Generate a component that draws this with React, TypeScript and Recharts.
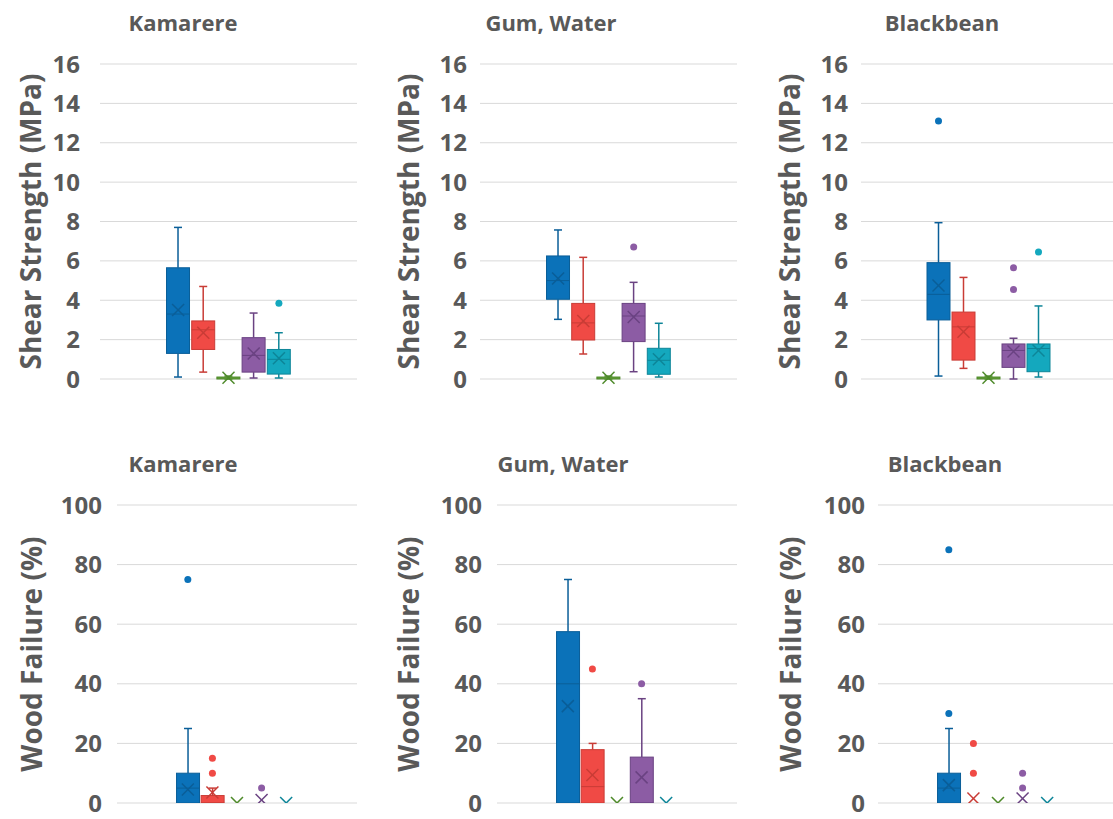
import React from "react";
import { ComposedChart, Bar, Scatter, XAxis, YAxis, CartesianGrid } from "recharts";

const FONT = "'Open Sans', 'DejaVu Sans', sans-serif";
const TEXT = "#595959";

const seriesNames = ["Series 1", "Series 2", "Series 3", "Series 4", "Series 5"];
const seriesFill = ["#0B72B9", "#F04A45", "#7AB648", "#8C5CA4", "#14A8BE"];
const seriesLine = ["#0A5E98", "#C93C36", "#4E8A2A", "#6A4282", "#0D8598"];

const shearTicks = [0, 2, 4, 6, 8, 10, 12, 14, 16];
const failureTicks = [0, 20, 40, 60, 80, 100];

// [min, q1, median, q3, max] for each series
const shearKamarere = [
    [0.1, 1.3, 3.3, 5.65, 7.7],
    [0.35, 1.5, 2.5, 2.95, 4.7],
    [0, 0, 0.05, 0.1, 0.15],
    [0.05, 0.35, 1.2, 2.1, 3.35],
    [0.05, 0.25, 1.0, 1.5, 2.35],
];
const shearKamarereMeans = [3.5, 2.35, 0.06, 1.3, 1.05];
const shearKamarereOutliers = [[], [], [], [], [3.85]];

const shearGum = [
    [3.03, 4.05, 5.0, 6.25, 7.57],
    [1.27, 1.98, 2.85, 3.84, 6.18],
    [0, 0, 0.05, 0.1, 0.15],
    [0.37, 1.9, 3.2, 3.84, 4.91],
    [0.1, 0.24, 0.95, 1.56, 2.83],
];
const shearGumMeans = [5.1, 2.95, 0.06, 3.15, 1.0];
const shearGumOutliers = [[], [], [], [6.7], []];

const shearBlackbean = [
    [0.15, 3.0, 4.3, 5.91, 7.94],
    [0.54, 0.96, 2.65, 3.4, 5.16],
    [0, 0, 0.05, 0.1, 0.15],
    [0, 0.59, 1.45, 1.78, 2.07],
    [0.1, 0.37, 1.55, 1.78, 3.71],
];
const shearBlackbeanMeans = [4.75, 2.4, 0.06, 1.4, 1.45];
const shearBlackbeanOutliers = [[13.1], [], [], [4.55, 5.65], [6.45]];

const failureKamarere = [
    [0, 0, 5, 10, 25],
    [0, 0, 0, 2.5, 5],
    [0, 0, 0, 0, 0],
    [0, 0, 0, 0, 0],
    [0, 0, 0, 0, 0],
];
const failureKamarereMeans = [4.5, 3.5, 0, 1, 0];
const failureKamarereOutliers = [[75], [10, 15], [], [5], []];

const failureGum = [
    [0, 0, 40, 57.5, 75],
    [0, 0, 5.5, 17.9, 20],
    [0, 0, 0, 0, 0],
    [0, 0, 0, 15.4, 35],
    [0, 0, 0, 0, 0],
];
const failureGumMeans = [32.5, 9.4, 0, 8.6, 0];
const failureGumOutliers = [[], [45], [], [40], []];

const failureBlackbean = [
    [0, 0, 5, 10, 25],
    [0, 0, 0, 0, 0],
    [0, 0, 0, 0, 0],
    [0, 0, 0, 0, 0],
    [0, 0, 0, 0, 0],
];
const failureBlackbeanMeans = [6, 1.5, 0, 1.5, 0];
const failureBlackbeanOutliers = [[30, 85], [10, 20], [], [5, 10], []];

function BoxShape(props: any) {
    const { x, y, width, height, payload } = props;
    const [min, q1, med, q3, max] = payload.stats;
    if (max === min) return <g />;
    const i = payload.idx;
    const toY = (v: number) => y + (height * (max - v)) / (max - min);
    const cx = x + width / 2;
    const cap = 4;
    return (
        <g>
            <line x1={cx} x2={cx} y1={toY(max)} y2={toY(q3)} stroke={seriesLine[i]} strokeWidth={1.5} />
            <line x1={cx} x2={cx} y1={toY(q1)} y2={toY(min)} stroke={seriesLine[i]} strokeWidth={1.5} />
            <line x1={cx - cap} x2={cx + cap} y1={toY(max)} y2={toY(max)} stroke={seriesLine[i]} strokeWidth={1.5} />
            <line x1={cx - cap} x2={cx + cap} y1={toY(min)} y2={toY(min)} stroke={seriesLine[i]} strokeWidth={1.5} />
            <rect
                x={x}
                y={toY(q3)}
                width={width}
                height={Math.max(toY(q1) - toY(q3), 0.5)}
                fill={seriesFill[i]}
                stroke={seriesLine[i]}
                strokeWidth={1}
            />
            <line x1={x} x2={x + width} y1={toY(med)} y2={toY(med)} stroke={seriesLine[i]} strokeWidth={1} />
        </g>
    );
}

function MeanMark(props: any) {
    const { cx, cy, payload } = props;
    const s = 6;
    const c = seriesLine[payload.idx];
    return (
        <g>
            <line x1={cx - s} x2={cx + s} y1={cy - s} y2={cy + s} stroke={c} strokeWidth={1.5} />
            <line x1={cx - s} x2={cx + s} y1={cy + s} y2={cy - s} stroke={c} strokeWidth={1.5} />
        </g>
    );
}

function OutlierDot(props: any) {
    const { cx, cy, payload } = props;
    return <circle cx={cx} cy={cy} r={3.5} fill={seriesFill[payload.idx]} />;
}

interface PanelProps {
    title: string;
    titleX: number;
    titleY: number;
    yLabel: string;
    ticks: number[];
    stats: number[][];
    means: number[];
    outliers: number[][];
    left: number;
    top: number;
    width: number;
    height: number;
    axisWidth: number;
    labelOffset: number;
    tickGap: number;
    marginTop: number;
    marginBottom: number;
    xDomain: [number, number];
    clip: boolean;
}

function BoxPanel(p: PanelProps) {
    const rows = p.stats.map((s, i) => ({ name: seriesNames[i], pos: i + 1, idx: i, stats: s, range: [s[0], s[4]] }));
    const meanPts = p.means.map((m, i) => ({ pos: i + 1, idx: i, value: m }));
    const outPts = p.outliers.flatMap((list, i) => list.map((v) => ({ pos: i + 1, idx: i, value: v })));
    const yMax = p.ticks[p.ticks.length - 1];
    return (
        <>
            <div
                style={{
                    position: "absolute",
                    left: p.titleX - 100,
                    top: p.titleY - 15,
                    width: 200,
                    height: 30,
                    lineHeight: "30px",
                    textAlign: "center",
                    fontSize: 22,
                    fontWeight: 700,
                    color: TEXT,
                    fontFamily: FONT,
                }}
            >
                {p.title}
            </div>
            <div style={{ position: "absolute", left: p.left, top: p.top }}>
                <ComposedChart
                    width={p.width}
                    height={p.height}
                    data={rows}
                    margin={{ top: p.marginTop, right: 0, bottom: p.marginBottom, left: 0 }}
                >
                    <CartesianGrid vertical={false} stroke="#D9D9D9" strokeWidth={1} />
                    <XAxis type="number" dataKey="pos" domain={p.xDomain} hide />
                    <YAxis
                        type="number"
                        domain={[0, yMax]}
                        ticks={p.ticks}
                        interval={0}
                        width={p.axisWidth}
                        allowDataOverflow={p.clip}
                        axisLine={false}
                        tickLine={false}
                        tickMargin={p.tickGap}
                        tick={{ fill: TEXT, fontSize: 24, fontWeight: 700, fontFamily: FONT }}
                        label={{
                            value: p.yLabel,
                            angle: -90,
                            position: "insideLeft",
                            offset: p.labelOffset,
                            style: { textAnchor: "middle", fill: TEXT, fontSize: 28, fontWeight: 700, fontFamily: FONT },
                        }}
                    />
                    <Bar dataKey="range" barSize={23} shape={BoxShape} isAnimationActive={false} />
                    <Scatter data={outPts} dataKey="value" shape={OutlierDot} isAnimationActive={false} />
                    <Scatter data={meanPts} dataKey="value" shape={MeanMark} isAnimationActive={false} />
                </ComposedChart>
            </div>
        </>
    );
}

export default function App() {
    const topBase = { yLabel: "Shear Strength (MPa)", ticks: shearTicks, top: 0, height: 400, marginTop: 64, marginBottom: 21, xDomain: [-2.1, 8.1] as [number, number], clip: false, titleY: 22 };
    const botBase = { yLabel: "Wood Failure (%)", ticks: failureTicks, top: 420, height: 399, marginTop: 85, marginBottom: 16, xDomain: [-1.88, 7.88] as [number, number], clip: true, titleY: 463 };
    return (
        <div
            style={{
                position: "absolute",
                left: 0,
                top: 0,
                width: 1113,
                height: 819,
                overflow: "hidden",
                background: "#ffffff",
                fontFamily: FONT,
            }}
        >
            <BoxPanel {...topBase} title="Kamarere" titleX={183} stats={shearKamarere} means={shearKamarereMeans} outliers={shearKamarereOutliers}
                left={0} width={357} axisWidth={100} labelOffset={31} tickGap={14} />
            <BoxPanel {...topBase} title="Gum, Water" titleX={551} stats={shearGum} means={shearGumMeans} outliers={shearGumOutliers}
                left={370} width={367} axisWidth={110} labelOffset={39} tickGap={7} />
            <BoxPanel {...topBase} title="Blackbean" titleX={942} stats={shearBlackbean} means={shearBlackbeanMeans} outliers={shearBlackbeanOutliers}
                left={740} width={376} axisWidth={121} labelOffset={50} tickGap={7} />
            <BoxPanel {...botBase} title="Kamarere" titleX={183} stats={failureKamarere} means={failureKamarereMeans} outliers={failureKamarereOutliers}
                left={0} width={357} axisWidth={117} labelOffset={32} tickGap={9} />
            <BoxPanel {...botBase} title="Gum, Water" titleX={563} stats={failureGum} means={failureGumMeans} outliers={failureGumOutliers}
                left={370} width={367} axisWidth={127} labelOffset={39} tickGap={9} />
            <BoxPanel {...botBase} title="Blackbean" titleX={945} stats={failureBlackbean} means={failureBlackbeanMeans} outliers={failureBlackbeanOutliers}
                left={740} width={378} axisWidth={138} labelOffset={51} tickGap={7} />
        </div>
    );
}
